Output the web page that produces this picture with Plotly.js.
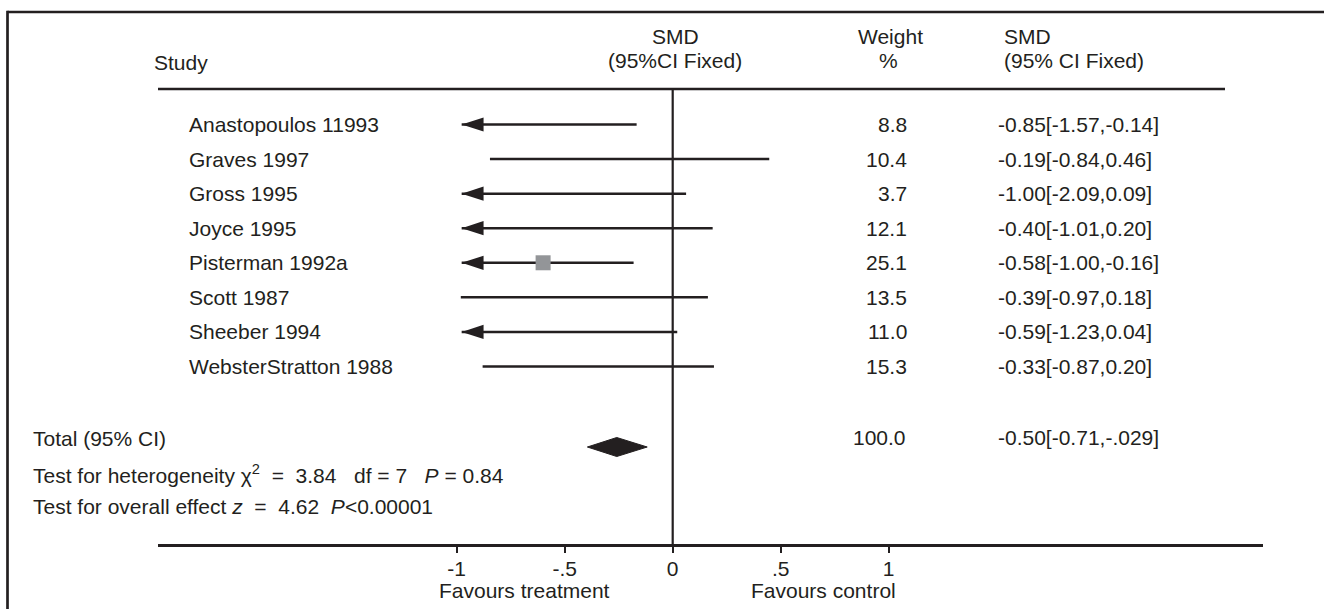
<!DOCTYPE html>
<html>
<head>
<meta charset="utf-8">
<script src="https://cdn.plot.ly/plotly-3.0.1.min.js"></script>
<style>
html,body{margin:0;padding:0;background:#ffffff;}
#chart{width:1324px;height:609px;}
</style>
</head>
<body>
<div id="chart"></div>
<script>
// ---------------- data ----------------
const studies = ["Anastopoulos 11993","Graves 1997","Gross 1995","Joyce 1995","Pisterman 1992a","Scott 1987","Sheeber 1994","WebsterStratton 1988"];
const weights = ["8.8","10.4","3.7","12.1","25.1","13.5","11.0","15.3"];
const smdLabels = ["-0.85[-1.57,-0.14]","-0.19[-0.84,0.46]","-1.00[-2.09,0.09]","-0.40[-1.01,0.20]","-0.58[-1.00,-0.16]","-0.39[-0.97,0.18]","-0.59[-1.23,0.04]","-0.33[-0.87,0.20]"];
// confidence-interval ends as drawn in the picture (left end clipped where an arrow is shown)
const ciLow  = [-0.977,-0.846,-0.977,-0.977,-0.977,-0.981,-0.977,-0.880];
const ciHigh = [-0.167, 0.447, 0.062, 0.185,-0.181, 0.163, 0.021, 0.191];
const clippedLeft = [true,false,true,true,true,false,true,false];
const squareStudies = ["Pisterman 1992a"];
const squareSMD = [-0.60];
const totalLow = -0.395, totalMid = -0.259, totalHigh = -0.118;
const totalLabel = "Total (95% CI)";
const totalWeight = "100.0";
const totalSMD = "-0.50[-0.71,-.029]";
const hetText = "Test for heterogeneity \u03c7<sup>2</sup>\u00a0\u00a0=\u00a0\u00a03.84\u00a0\u00a0\u00a0df\u00a0=\u00a07\u00a0\u00a0\u00a0<i>P</i>\u00a0=\u00a00.84";
const overallText = "Test for overall effect <i>z</i>\u00a0\u00a0=\u00a0\u00a04.62\u00a0\u00a0<i>P</i>&lt;0.00001";
const tickVals = [-1,-0.5,0,0.5,1];
const tickText = ["-1","-.5","0",".5","1"];

// ---------------- layout geometry ----------------
const INK = "#231f20";
const FONT = "Liberation Sans, Arial, Helvetica, sans-serif";
const W = 1324, H = 609;
const mL = 158, mR = 61, mT = 12, mB = 65;
const plotW = W - mL - mR, plotH = H - mT - mB;
const ZERO_PX = 672.7, UNIT_PX = 216;
const ROW0 = 124.5, ROWH = 34.57;
const xData = p => (p - ZERO_PX) / UNIT_PX;
const yData = p => (p - ROW0) / ROWH;
const xP = p => (p - mL) / plotW;
const yP = p => (mT + plotH - p) / plotH;

// ---------------- traces ----------------
const ciX = [], ciY = [];
studies.forEach((s,i)=>{ ciX.push(ciLow[i], ciHigh[i], null); ciY.push(i, i, null); });

const arrowX = [], arrowY = [];
studies.forEach((s,i)=>{ if(clippedLeft[i]){ arrowX.push(ciLow[i]); arrowY.push(i); } });

const sqY = squareStudies.map(n => studies.indexOf(n));

const totalY = yData(447);
const dh = 9.5 / ROWH;

const traces = [
  {type:"scatter", mode:"lines", x:ciX, y:ciY, line:{color:INK, width:2.5}, hoverinfo:"skip", showlegend:false},
  {type:"scatter", mode:"markers", x:arrowX, y:arrowY,
   marker:{symbol:"arrow", angle:-90, size:23, color:INK, line:{width:0}}, hoverinfo:"skip", showlegend:false},
  {type:"scatter", mode:"markers", x:squareSMD, y:sqY,
   marker:{symbol:"square", size:15, color:"#939598", line:{width:0}}, hoverinfo:"skip", showlegend:false},
  {type:"scatter", mode:"lines", fill:"toself", fillcolor:INK,
   x:[totalLow, totalMid, totalHigh, totalMid, totalLow],
   y:[totalY, totalY - dh, totalY, totalY + dh, totalY],
   line:{color:INK, width:1}, hoverinfo:"skip", showlegend:false}
];

// ---------------- annotations ----------------
const ann = [];
function txt(text, px, py, xanchor){
  ann.push({text:text, xref:"paper", yref:"paper", x:xP(px), y:yP(py), xanchor:xanchor, yanchor:"middle",
            showarrow:false, font:{family:FONT, size:21, color:INK}});
}
txt("Study", 152, 63, "left");
txt("SMD", 675, 37, "center");
txt("(95%CI Fixed)", 675, 61, "center");
txt("Weight", 890, 37, "center");
txt("%", 888, 60, "center");
txt("SMD", 1002, 37, "left");
txt("(95% CI Fixed)", 1002, 61, "left");

studies.forEach((s,i)=>{
  const py = ROW0 + i*ROWH;
  txt(s, 187, py, "left");
  txt(weights[i], 909, py, "right");
  txt(smdLabels[i], 996, py, "left");
});
txt(totalLabel, 31, 438, "left");
txt(totalWeight, 908, 437, "right");
txt(totalSMD, 996, 437, "left");
txt(hetText, 31, 474, "left");
txt(overallText, 31, 506, "left");
txt("Favours treatment", 524, 590, "center");
txt("Favours control", 823.5, 590, "center");

// ---------------- shapes ----------------
const shapes = [
  // frame: top and left
  {type:"line", xref:"paper", yref:"paper", x0:xP(7.5), x1:xP(1330), y0:yP(12), y1:yP(12), line:{color:INK, width:2.7}},
  {type:"line", xref:"paper", yref:"paper", x0:xP(7.5), x1:xP(7.5), y0:yP(10.7), y1:yP(615), line:{color:INK, width:2.7}},
  // header rule
  {type:"line", xref:"paper", yref:"paper", x0:xP(158), x1:xP(1225), y0:yP(89), y1:yP(89), line:{color:INK, width:2.7}},
  // line of no effect
  {type:"line", xref:"x", yref:"paper", x0:0, x1:0, y0:yP(89), y1:0, line:{color:INK, width:2.2}}
];

const layout = {
  width:W, height:H,
  margin:{l:mL, r:mR, t:mT, b:mB, pad:0},
  paper_bgcolor:"#ffffff", plot_bgcolor:"#ffffff",
  showlegend:false,
  xaxis:{range:[xData(mL), xData(W - mR)], showline:true, linecolor:INK, linewidth:3,
         ticks:"outside", ticklen:6, tickwidth:2, tickcolor:INK, ticklabelstandoff:-2,
         tickvals:tickVals, ticktext:tickText, tickfont:{family:FONT, size:21, color:INK},
         showgrid:false, zeroline:false, fixedrange:true},
  yaxis:{range:[yData(mT + plotH), yData(mT)], visible:false, showgrid:false, zeroline:false, fixedrange:true},
  annotations:ann,
  shapes:shapes,
  font:{family:FONT, size:21, color:INK}
};

Plotly.newPlot("chart", traces, layout, {staticPlot:true, displayModeBar:false});
</script>
</body>
</html>
